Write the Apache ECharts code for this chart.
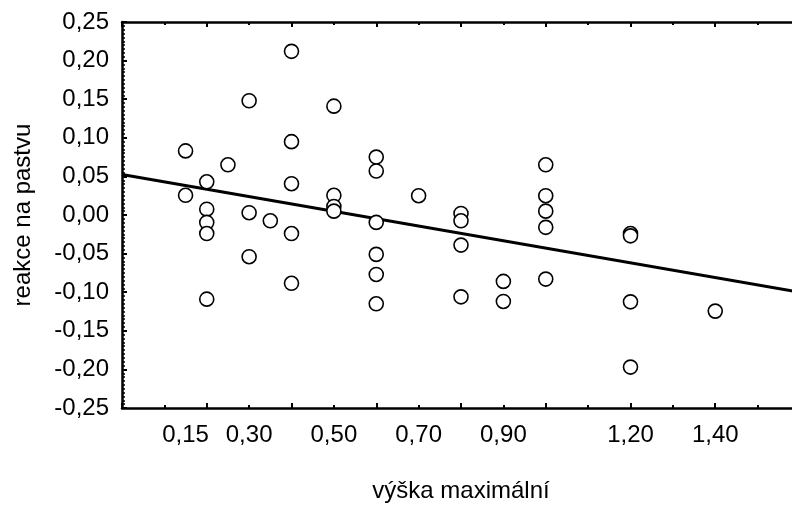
<!DOCTYPE html>
<html>
<head>
<meta charset="utf-8">
<script src="https://cdn.jsdelivr.net/npm/echarts@6/dist/echarts.min.js"></script>
<style>html,body{margin:0;padding:0;background:#fff;overflow:hidden;width:792px;height:508px}#c{width:800px;height:508px}</style>
</head>
<body>
<div id="c"></div>
<script>
const xValues = [0.15,0.15, 0.20,0.20,0.20,0.20,0.20, 0.25, 0.30,0.30,0.30, 0.35,
  0.40,0.40,0.40,0.40,0.40, 0.50,0.50,0.50,0.50, 0.60,0.60,0.60,0.60,0.60,0.60, 0.70,
  0.80,0.80,0.80,0.80, 0.90,0.90, 1.00,1.00,1.00,1.00,1.00, 1.20,1.20,1.20,1.20, 1.40];
const yValues = [0.083,0.0255, 0.043,0.0075,-0.0096,-0.024,-0.109, 0.065, 0.148,0.003,-0.054, -0.0075,
  0.212,0.095,0.0405,-0.024,-0.0885, 0.141,0.0255,0.011,0.005, 0.075,0.057,-0.0096,-0.051,-0.077,-0.115, 0.025,
  0.002,-0.0075,-0.039,-0.106, -0.086,-0.112, 0.065,0.025,0.005,-0.016,-0.083, -0.024,-0.027,-0.1125,-0.197, -0.1245];
const fitX = [0, 1.6];
const fitY = [0.0524, -0.100];
const xLabelValues = [0.15, 0.30, 0.50, 0.70, 0.90, 1.20, 1.40];
const xName = 'výška maximální';
const yName = 'reakce na pastvu';

const fmt = v => (Math.abs(v) < 1e-9 ? 0 : v).toFixed(2).replace('.', ',');
const font = 'Liberation Sans, Arial, sans-serif';

const chart = echarts.init(document.getElementById('c'), null, {renderer: 'canvas', width: 800, height: 508});
const axisLine = {show: true, onZero: false, lineStyle: {color: '#000', width: 2.5}};
chart.setOption({
  animation: false,
  backgroundColor: '#fff',
  grid: {left: 122, right: 0, top: 22, bottom: 97, containLabel: false},
  xAxis: [{
    type: 'value', position: 'bottom', min: 0, max: 1.6, interval: 0.2,
    axisLine: axisLine,
    axisTick: {show: true, inside: true, length: 5, lineStyle: {color: '#000', width: 2}},
    minorTick: {show: true, splitNumber: 2, length: 3, lineStyle: {color: '#000', width: 2}},
    splitLine: {show: false},
    axisLabel: {customValues: xLabelValues, formatter: fmt, color: '#000', fontFamily: font, fontSize: 24, margin: 15},
    name: xName, nameLocation: 'middle', nameGap: 71,
    nameTextStyle: {color: '#000', fontFamily: font, fontSize: 24}
  }, {
    type: 'value', position: 'top', min: 0, max: 1.6, interval: 0.2,
    axisLine: axisLine,
    axisTick: {show: true, inside: true, length: 5, lineStyle: {color: '#000', width: 2}},
    minorTick: {show: true, splitNumber: 2, length: 3, lineStyle: {color: '#000', width: 2}},
    splitLine: {show: false},
    axisLabel: {show: false}
  }],
  yAxis: [{
    type: 'value', position: 'left', min: -0.25, max: 0.25, interval: 0.05,
    axisLine: axisLine,
    axisTick: {show: true, inside: true, length: 5, lineStyle: {color: '#000', width: 2}},
    minorTick: {show: true, splitNumber: 10, length: 3, lineStyle: {color: '#000', width: 1.5}},
    splitLine: {show: false},
    axisLabel: {formatter: fmt, color: '#000', fontFamily: font, fontSize: 24, margin: 13},
    name: yName, nameLocation: 'middle', nameGap: 87,
    nameTextStyle: {color: '#000', fontFamily: font, fontSize: 24}
  }],
  series: [{
    type: 'line',
    data: fitX.map((x, i) => [x, fitY[i]]),
    showSymbol: false, symbol: 'none',
    lineStyle: {color: '#000', width: 3},
    z: 2
  }, {
    type: 'scatter',
    data: xValues.map((x, i) => [x, yValues[i]]),
    symbol: 'circle', symbolSize: 14,
    itemStyle: {color: '#fff', borderColor: '#000', borderWidth: 1.6, opacity: 1},
    z: 3
  }]
});
</script>
</body>
</html>
